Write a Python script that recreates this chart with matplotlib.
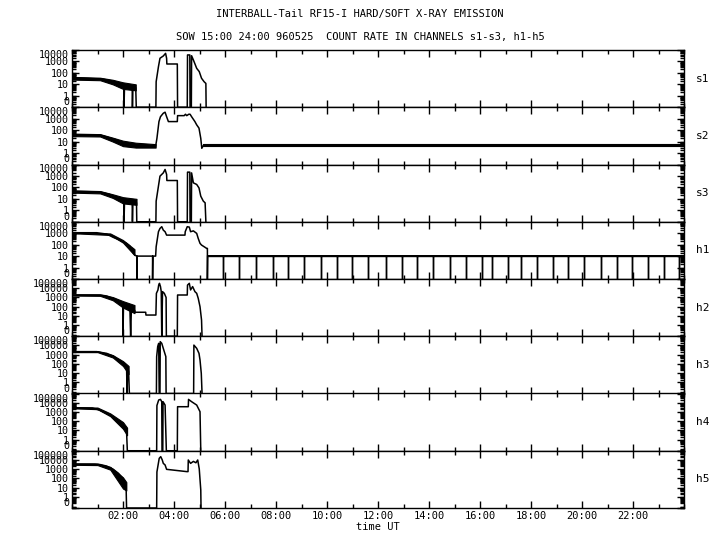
import numpy as np
import matplotlib
matplotlib.use('Agg')
import matplotlib.pyplot as plt
from matplotlib.ticker import LogLocator, FixedLocator, MultipleLocator, NullFormatter, FixedFormatter

plt.rcParams['font.family'] = ['DejaVu Sans Mono']

# ---------------- data (time in hours UT, count rate) ----------------
channels = ['s1', 's2', 's3', 'h1', 'h2', 'h3', 'h4', 'h5']

s1_t = [0.0, 0.03, 0.05, 0.5, 1.1, 1.3, 1.62, 1.85, 2.0, 2.03, 2.04, 2.06, 2.36, 2.37, 2.39, 2.5, 2.52,
        3.29, 3.30, 3.39, 3.45, 3.58, 3.67, 3.71, 3.72, 4.13, 4.14, 4.52, 4.53, 4.62, 4.63, 4.68, 4.69,
        4.76, 4.89, 4.99, 5.08, 5.18, 5.25, 5.26]
s1_v = [40, 90, 35, 33, 30, 26, 17, 12, 8, 8, 0, 7, 6, 0, 6, 5, 0,
        0, 17, 350, 1900, 3000, 5100, 1900, 600, 600, 0, 0, 3700, 3700, 0, 0, 3150,
        1350, 250, 130, 34, 17, 12, 0]
s1_band_t = [0.0, 1.1, 1.6, 2.0, 2.5]
s1_band_lo = [26, 23, 10, 4, 3]
s1_band_hi = [45, 38, 25, 15, 10]

s2_t = [0.0, 0.03, 1.1, 1.3, 1.75, 2.0, 2.27, 2.67, 3.28, 3.33, 3.41, 3.47, 3.58, 3.65, 3.71, 3.78,
        4.13, 4.14, 4.40, 4.45, 4.50, 4.58, 4.63, 4.69, 4.82, 4.89, 4.98, 5.05, 5.09, 5.15, 24.0]
s2_v = [60, 40, 38, 28, 14, 7, 5.2, 4, 4, 19, 560, 1500, 3000, 3700, 1500, 560,
        560, 1850, 1850, 2450, 1850, 2450, 2450, 1500, 560, 290, 150, 19, 2.6, 4.5, 4.5]
s2_band_t = [0.0, 1.1, 1.6, 2.0, 2.5, 3.28]
s2_band_lo = [30, 28, 10, 4, 3, 3]
s2_band_hi = [50, 45, 22, 12, 8, 6]
s2_tail_t = [5.15, 24.0]
s2_tail_lo = [4.0, 4.0]
s2_tail_hi = [5.8, 5.8]

s3_t = [0.0, 0.02, 0.05, 1.1, 1.49, 1.75, 2.0, 2.03, 2.04, 2.06, 2.36, 2.37, 2.39, 2.53, 2.54,
        3.29, 3.30, 3.39, 3.45, 3.58, 3.65, 3.71, 3.72, 4.13, 4.14, 4.52, 4.53, 4.62, 4.63, 4.68, 4.69,
        4.76, 4.89, 4.98, 5.05, 5.15, 5.22, 5.25]
s3_v = [45, 90, 45, 40, 24, 12, 6.3, 6, 0, 6, 5, 0, 5, 4.5, 0,
        0, 6.3, 130, 960, 1850, 3700, 1350, 400, 400, 0, 0, 2150, 2150, 0, 0, 1850,
        250, 180, 90, 17, 6.3, 4.5, 0]
s3_band_t = [0.0, 1.1, 1.6, 2.0, 2.53]
s3_band_lo = [35, 30, 12, 4, 3]
s3_band_hi = [55, 48, 25, 14, 10]

h1_t = [0.0, 0.97, 1.36, 1.62, 1.88, 2.14, 2.27, 2.34, 2.41, 2.47, 2.54, 2.54, 2.55, 3.16, 3.16, 3.17,
        3.28, 3.30, 3.39, 3.45, 3.52, 3.58, 3.65, 3.71, 4.43, 4.44, 4.52, 4.60, 4.65, 4.76, 4.89, 4.95,
        5.02, 5.08, 5.22, 5.28, 5.31, 5.31, 5.32]
h1_v = [1100, 1100, 840, 430, 250, 130, 76, 34, 17, 12, 10, 0, 10, 10, 0, 10,
        10, 66, 1350, 2600, 3700, 1850, 1350, 680, 680, 1350, 3700, 3400, 1350, 1600, 960, 350,
        130, 92, 58, 47, 47, 0, 10]
h1_band_t = [0.0, 1.5, 2.0, 2.45]
h1_band_lo = [1000, 700, 150, 12]
h1_band_hi = [1250, 950, 250, 40]
h1_tail_level = 10
h1_tail_lo = 9.0
h1_tail_hi = 11.5
h1_dropouts = [5.93, 6.56, 7.22, 7.87, 8.48, 9.10, 9.75, 10.38, 10.99, 11.62, 12.30, 12.93, 13.54,
               14.17, 14.82, 15.45, 16.08, 16.48, 17.10, 17.60, 18.22, 18.85, 19.46, 20.09, 20.73,
               21.36, 21.95, 22.58, 23.22, 23.81]

h2_t = [0.0, 1.1, 1.36, 1.62, 1.82, 1.95, 1.99, 2.0, 2.02, 2.14, 2.27, 2.30, 2.33, 2.46, 2.47, 2.89,
        2.90, 3.29, 3.31, 3.37, 3.40, 3.43, 3.47, 3.50, 3.52, 3.55, 3.62, 3.69, 3.70, 4.13, 4.14, 4.52,
        4.53, 4.60, 4.65, 4.73, 4.82, 4.89, 4.95, 5.02, 5.08, 5.10]
h2_v = [1850, 1850, 1450, 810, 450, 270, 200, 0, 200, 150, 66, 0, 80, 40, 25, 25,
        12.5, 12.5, 2800, 6500, 22000, 34000, 15000, 4300, 0, 4300, 2800, 1000, 0, 0, 1850, 1850,
        22000, 34000, 6500, 15000, 4300, 2800, 810, 100, 3.6, 0]
h2_band_t = [0.0, 1.1, 1.6, 2.0, 2.45]
h2_band_lo = [1600, 1500, 500, 80, 20]
h2_band_hi = [2200, 2100, 1100, 400, 150]

h3_t = [0.0, 0.97, 1.36, 1.62, 1.82, 2.0, 2.14, 2.16, 2.18, 2.22, 2.25, 3.31, 3.32, 3.36, 3.40, 3.42,
        3.45, 3.46, 3.52, 3.60, 3.68, 3.69, 4.77, 4.78, 4.89, 4.98, 5.02, 5.07, 5.10]
h3_v = [2150, 2150, 1400, 720, 270, 117, 51, 0, 40, 15, 0, 0, 620, 7400, 17000, 0,
        0, 26000, 17000, 3200, 620, 0, 0, 11000, 4900, 1400, 270, 9.5, 0]
h3_band_t = [0.0, 1.0, 1.6, 2.0, 2.22]
h3_band_lo = [1900, 1900, 500, 60, 8]
h3_band_hi = [2500, 2500, 900, 200, 60]

h4_t = [0.0, 0.8, 1.1, 1.49, 1.75, 2.0, 2.14, 2.17, 3.32, 3.33, 3.40, 3.47, 3.52, 3.53, 3.56, 3.57,
        3.65, 3.70, 4.13, 4.14, 4.56, 4.57, 4.69, 4.89, 5.02, 5.05]
h4_v = [2900, 2700, 1500, 470, 130, 39, 7.2, 0, 0, 5000, 20000, 23000, 13000, 0, 0, 13000,
        5600, 0, 0, 3700, 3700, 23000, 13000, 5600, 1070, 0]
h4_band_t = [0.0, 1.0, 1.5, 2.0, 2.16]
h4_band_lo = [2500, 2000, 350, 15, 3]
h4_band_hi = [3300, 3000, 700, 80, 20]

h5_t = [0.0, 0.9, 1.1, 1.36, 1.62, 1.82, 2.0, 2.12, 2.14, 3.32, 3.33, 3.42, 3.48, 3.54, 3.58, 3.65,
        3.71, 4.50, 4.55, 4.56, 4.65, 4.76, 4.86, 4.93, 4.99, 5.05, 5.06]
h5_v = [3600, 3600, 3200, 2200, 970, 360, 100, 20, 0, 0, 500, 15000, 23000, 10000, 4300, 2900,
        970, 550, 550, 10000, 4300, 7000, 5000, 10000, 1100, 5.6, 0]
h5_band_t = [0.0, 1.0, 1.5, 2.0, 2.13]
h5_band_lo = [3000, 2800, 900, 8, 5]
h5_band_hi = [4200, 4000, 1800, 130, 40]

x_major = [2, 4, 6, 8, 10, 12, 14, 16, 18, 20, 22]
x_labels = ['02:00', '04:00', '06:00', '08:00', '10:00', '12:00', '14:00', '16:00', '18:00',
            '20:00', '22:00']

title1 = 'INTERBALL-Tail RF15-I HARD/SOFT X-RAY EMISSION'
title2 = 'SOW 15:00 24:00 960525  COUNT RATE IN CHANNELS s1-s3, h1-h5'
xlabel = 'time UT'

# ---------------- assemble ----------------
series = {
    's1': (s1_t, s1_v, [(s1_band_t, s1_band_lo, s1_band_hi)]),
    's2': (s2_t, s2_v, [(s2_band_t, s2_band_lo, s2_band_hi), (s2_tail_t, s2_tail_lo, s2_tail_hi)]),
    's3': (s3_t, s3_v, [(s3_band_t, s3_band_lo, s3_band_hi)]),
    'h1': (h1_t, h1_v, [(h1_band_t, h1_band_lo, h1_band_hi)]),
    'h2': (h2_t, h2_v, [(h2_band_t, h2_band_lo, h2_band_hi)]),
    'h3': (h3_t, h3_v, [(h3_band_t, h3_band_lo, h3_band_hi)]),
    'h4': (h4_t, h4_v, [(h4_band_t, h4_band_lo, h4_band_hi)]),
    'h5': (h5_t, h5_v, [(h5_band_t, h5_band_lo, h5_band_hi)]),
}

# h1 tail with periodic dropouts to zero
tail_t = [5.32]
tail_v = [h1_tail_level]
for d in h1_dropouts:
    tail_t += [d, d, d]
    tail_v += [h1_tail_level, 0, h1_tail_level]
tail_t.append(24.0)
tail_v.append(h1_tail_level)

fig = plt.figure(figsize=(7.2, 5.5), dpi=100)
L, R, T, B = 72 / 720, 684 / 720, 1 - 50 / 550, 1 - 508 / 550
n = len(channels)
ph = (T - B) / n
FS = 7.5
YFS = 7.2

for i, ch in enumerate(channels):
    ax = fig.add_axes([L, T - (i + 1) * ph, R - L, ph])
    ax.set_yscale('log')
    if ch.startswith('s') or ch == 'h1':
        ymin, ymax = 10 ** -1.0, 10 ** 4.0
        dec = [1, 10, 100, 1000, 10000]
    else:
        ymin, ymax = 10 ** -1.2, 10 ** 5.0
        dec = [1, 10, 100, 1000, 10000, 100000]
    t, v, bands = series[ch]
    v = np.asarray(v, dtype=float)
    v = np.where(v <= 0, ymin, v)
    for bt, blo, bhi in bands:
        ax.fill_between(bt, blo, bhi, color='black', lw=0.8)
    ax.plot(t, v, color='black', lw=1.1)
    if ch == 'h1':
        tv = np.asarray(tail_v, dtype=float)
        tv = np.where(tv <= 0, ymin, tv)
        ax.fill_between([5.32, 24.0], h1_tail_lo, h1_tail_hi, color='black', lw=0)
        ax.plot(tail_t, tv, color='black', lw=1.0)
    ax.set_xlim(0, 24)
    ax.set_ylim(ymin, ymax)
    ax.yaxis.set_major_locator(FixedLocator([ymin] + dec))
    ax.yaxis.set_major_formatter(FixedFormatter(['0'] + [str(d) for d in dec]))
    ax.yaxis.set_minor_locator(LogLocator(base=10, subs=np.arange(2, 10), numticks=30))
    ax.yaxis.set_minor_formatter(NullFormatter())
    ax.xaxis.set_major_locator(FixedLocator(x_major))
    ax.xaxis.set_minor_locator(MultipleLocator(1))
    if i == n - 1:
        ax.set_xticklabels(x_labels)
    else:
        ax.set_xticklabels([])
    ax.tick_params(which='both', direction='in', top=True, right=True, pad=2)
    ax.tick_params(axis='x', labelsize=FS)
    ax.tick_params(axis='y', labelsize=YFS)
    ax.tick_params(which='major', length=5, width=1)
    ax.tick_params(which='minor', length=3, width=1)
    for s in ax.spines.values():
        s.set_linewidth(1.0)
    ylabels = ax.get_yticklabels()
    ylabels[0].set_va('bottom')
    ylabels[-1].set_va('top')
    ax.text(1.02, 0.5, ch, transform=ax.transAxes, fontsize=FS + 0.5, va='center', ha='left')
    if i == n - 1:
        ax.set_xlabel(xlabel, fontsize=FS, labelpad=1)

fig.text(0.5, 1 - 14 / 550, title1, ha='center', va='center', fontsize=FS)
fig.text(0.5, 1 - 37 / 550, title2, ha='center', va='center', fontsize=FS)

fig.savefig('out.png', dpi=100)
